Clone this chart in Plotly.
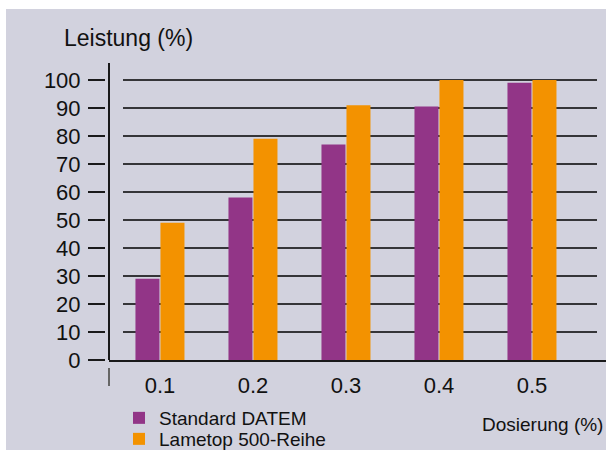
import plotly.graph_objects as go

categories = ["0.1", "0.2", "0.3", "0.4", "0.5"]
standard_datem = [29, 58, 77, 90.5, 99]
lametop_500 = [49, 79, 91, 100, 100]
y_ticks = [0, 10, 20, 30, 40, 50, 60, 70, 80, 90, 100]
grid_values = [10, 20, 30, 40, 50, 60, 70, 80, 90, 100]

PURPLE = "#923587"
ORANGE = "#F39200"
BG = "#D2D2DE"
FONT = "Liberation Sans, Arial, sans-serif"

W, H = 606, 457
L, R, T, B = 105, 0, 63, 97
PW = W - L - R
PH = H - T - B


def px(x):
    return (x - L) / PW


def py(y):
    return (H - B - y) / PH


fig = go.Figure()
fig.add_trace(go.Bar(x=categories, y=standard_datem, name="Standard DATEM", legend="legend",
                     marker=dict(color=PURPLE, line=dict(width=0))))
fig.add_trace(go.Bar(x=categories, y=lametop_500, name="Lametop 500-Reihe", legend="legend2",
                     marker=dict(color=ORANGE, line=dict(width=0))))

shapes = [
    dict(type="rect", xref="paper", yref="paper", x0=px(6), x1=px(606), y0=py(450), y1=py(9),
         fillcolor=BG, line=dict(width=0), layer="below"),
    dict(type="line", xref="paper", yref="paper", x0=px(109), x1=px(109), y0=0, y1=1,
         line=dict(color="#1a1a1a", width=2)),
    dict(type="line", xref="paper", yref="paper", x0=px(109), x1=px(109), y0=py(368), y1=py(386),
         line=dict(color="#666666", width=2)),
]
for g in grid_values:
    shapes.append(dict(type="line", xref="paper", yref="y", x0=px(123), x1=px(597), y0=g, y1=g,
                       line=dict(color="#000000", width=1.5), layer="below"))

legend_style = dict(xanchor="left", yanchor="top", bgcolor="rgba(0,0,0,0)",
                    font=dict(size=19, family=FONT, color="#111111"), itemclick=False)

fig.update_layout(
    width=W, height=H,
    margin=dict(l=L, r=R, t=T, b=B, pad=0, autoexpand=False),
    paper_bgcolor="white",
    plot_bgcolor="rgba(0,0,0,0)",
    font=dict(family=FONT, color="#111111", size=20),
    barmode="group",
    bargap=1 - 50 / 93,
    bargroupgap=0.04,
    showlegend=True,
    legend=dict(x=px(119), y=py(399), **legend_style),
    legend2=dict(x=px(119), y=py(420), **legend_style),
    xaxis=dict(type="category", domain=[px(109), 1], range=[-0.548, 4.796],
               showline=True, linecolor="#1a1a1a", linewidth=2,
               showgrid=False, zeroline=False, ticks="",
               tickfont=dict(size=22), ticklabelstandoff=5),
    yaxis=dict(anchor="free", position=0, range=[0, 106.07],
               tickvals=y_ticks, ticks="outside", ticklen=17, tickwidth=1.5, tickcolor="#1a1a1a",
               showline=False, showgrid=False, zeroline=False,
               tickfont=dict(size=22), ticklabelstandoff=3),
    shapes=shapes,
    annotations=[
        dict(text="Leistung (%)", xref="paper", yref="paper", x=px(62), y=py(38),
             xanchor="left", yanchor="middle", showarrow=False, font=dict(size=23)),
        dict(text="Dosierung (%)", xref="paper", yref="paper", x=px(605), y=py(424),
             xanchor="right", yanchor="middle", showarrow=False, font=dict(size=19)),
    ],
)

fig.write_html("out.html")
